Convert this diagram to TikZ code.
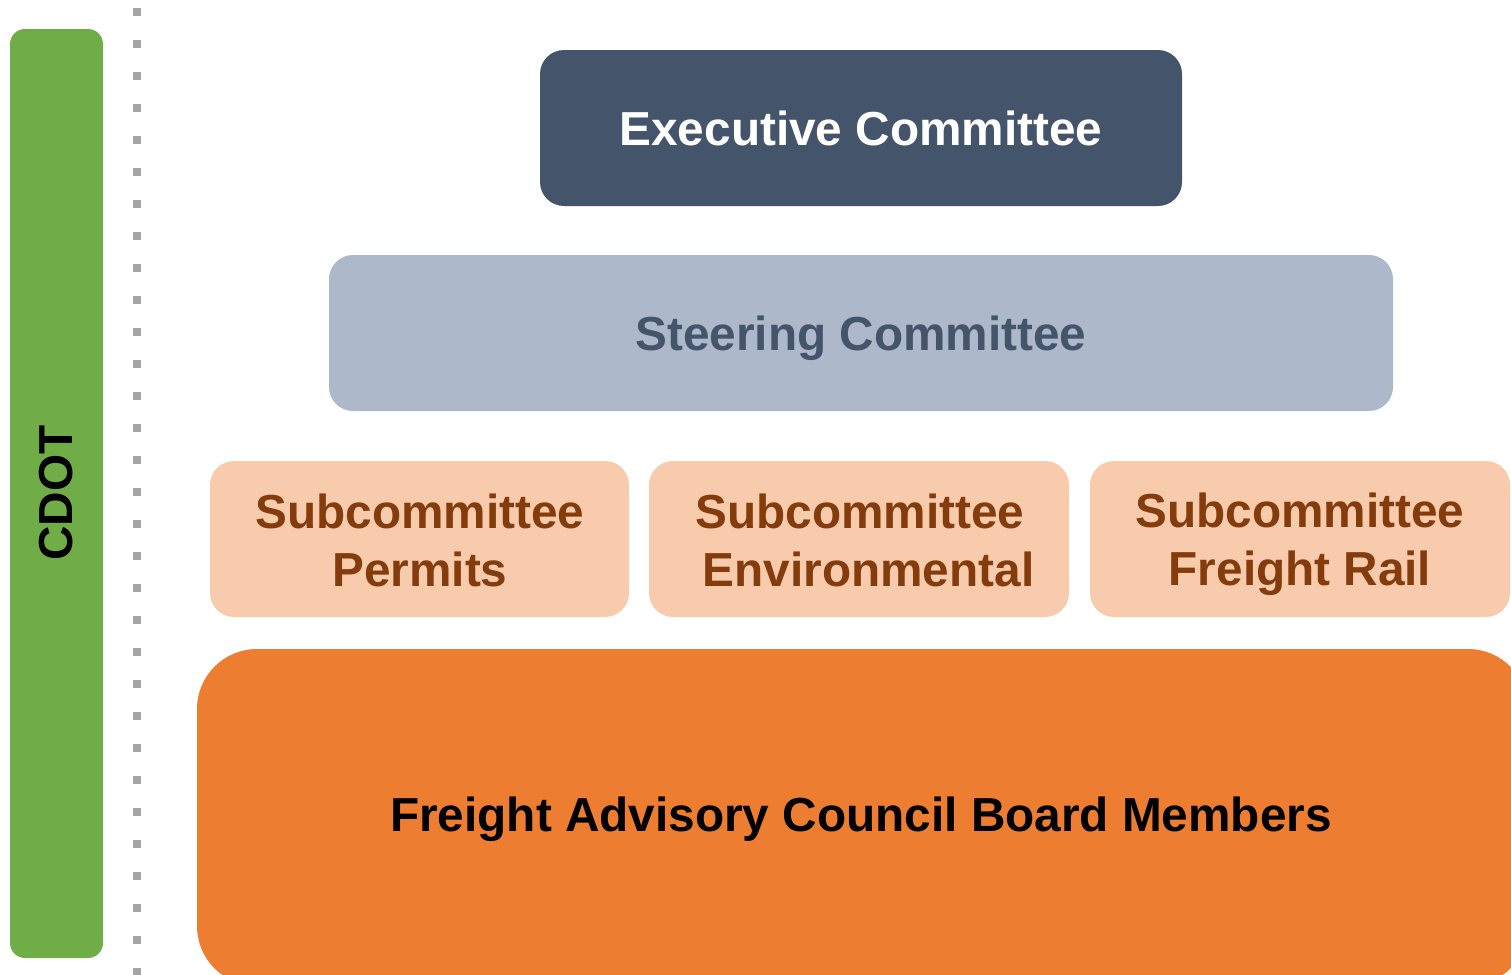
\documentclass[tikz,border=0pt]{standalone}
\usepackage{fontspec}
\setmainfont{Liberation Sans}
\definecolor{cdotgreen}{HTML}{70AD47}
\definecolor{execblue}{HTML}{44546A}
\definecolor{steerblue}{HTML}{ADB9CA}
\definecolor{subpeach}{HTML}{F8CBAD}
\definecolor{subbrown}{HTML}{843C0C}
\definecolor{boardorange}{HTML}{ED7D31}
\definecolor{dotgrey}{HTML}{A5A5A5}

\begin{document}
\begin{tikzpicture}[x=0.75pt,y=0.75pt,yscale=-1,xscale=1,
  lbl/.style={inner sep=0.75pt,align=center,font=\fontsize{35.8}{43.5}\selectfont\bfseries}]
\useasboundingbox (0,0) rectangle (1511,975);
\clip (0,0) rectangle (1511,975);

%Shape: CDOT bar
\fill [cdotgreen,rounded corners=11.25pt] (10,29) rectangle (103,958);
%Dotted separator
\foreach \k in {0,...,30}
  \fill [dotgrey] (133,8+32*\k) rectangle (141,16+32*\k);
%Shape: Executive box
\fill [execblue,rounded corners=18pt] (540,50) rectangle (1182,206);
%Shape: Steering box
\fill [steerblue,rounded corners=18pt] (329,255) rectangle (1393,411);
%Shape: Subcommittee boxes
\fill [subpeach,rounded corners=18pt] (210,461) rectangle (629,617);
\fill [subpeach,rounded corners=18pt] (649,461) rectangle (1069,617);
\fill [subpeach,rounded corners=18pt] (1090,461) rectangle (1510,617);
%Shape: Board box
\fill [boardorange,rounded corners=45pt] (197,649) rectangle (1528,986);

% Text Node
\node (cdot) [lbl,rotate=90] at (56,493) {CDOT};
% Text Node
\node (exec) [lbl,white] at (861,128) {Executive Committee};
% Text Node
\node (steer) [lbl,execblue] at (861,338) {Steering Committee};
% Text Node
\node (permits) [lbl,subbrown] at (420,540) {Subcommittee\\Permits};
% Text Node
\node (environ) [lbl,subbrown] at (860,540) {Subcommittee\\\hspace*{12.8pt}Environmental};
% Text Node
\node (rail) [lbl,subbrown] at (1300,544) {Subcommittee\\Freight Rail};
% Text Node
\node (board) [lbl,black] at (861,819) {Freight Advisory Council Board Members};

\end{tikzpicture}
\end{document}
